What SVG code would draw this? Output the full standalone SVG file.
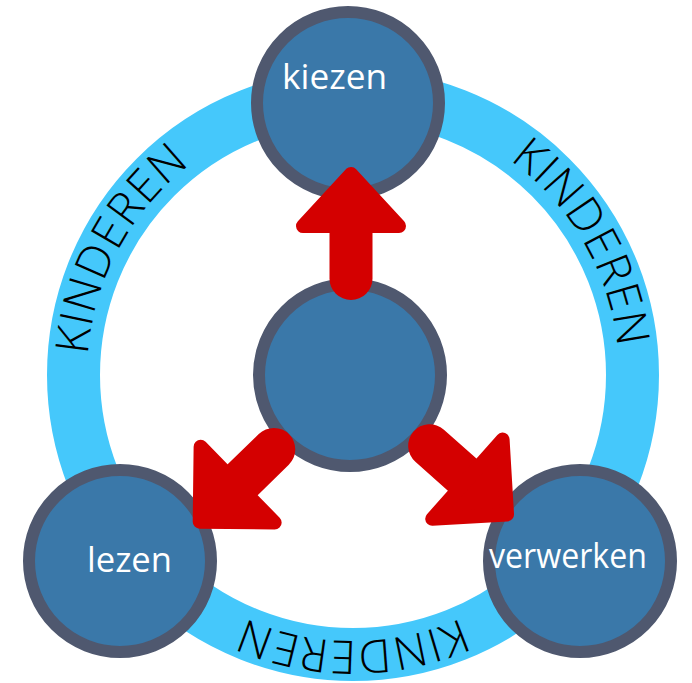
<svg xmlns="http://www.w3.org/2000/svg" xmlns:xlink="http://www.w3.org/1999/xlink" width="692" height="683" viewBox="0 0 692 683">
<style>
.node{fill:#3a78a9;stroke:#4f586f;stroke-width:12}
.lbl{fill:#ffffff;font-family:"Open Sans","Liberation Sans",sans-serif;font-size:35px}
.ring{fill:none;stroke:#45c8fb;stroke-width:53}
.kind{fill:#000000;font-family:"Open Sans","Liberation Sans",sans-serif;font-weight:350;font-size:46px;letter-spacing:1px}
.shaft{stroke:#d40000;stroke-width:43;stroke-linecap:round;fill:none}
.head{fill:#d40000;stroke:#d40000;stroke-width:14;stroke-linejoin:round}
</style>
<defs>
<path id="ringpath" d="M 619 375 A 266 266 0 1 1 87 375 A 266 266 0 1 1 619 375"/>
<g id="arrow-up">
<line class="shaft" x1="0" y1="-145" x2="0" y2="-96.5"/>
<polygon class="head" points="0,-201 -48,-149 48,-149"/>
</g>
<g id="arrow-diag">
<line class="shaft" x1="0" y1="-150" x2="0" y2="-106.5"/>
<polygon class="head" points="0,-210 -53,-157 53,-157"/>
</g>
</defs>
<g id="ring">
<circle class="ring" cx="353" cy="375" r="279.5"/>
<text class="kind" text-anchor="middle"><textPath xlink:href="#ringpath" startOffset="418">KINDEREN</textPath></text>
<text class="kind" text-anchor="middle"><textPath xlink:href="#ringpath" startOffset="967">KINDEREN</textPath></text>
<text class="kind" text-anchor="middle"><textPath xlink:href="#ringpath" startOffset="1532">KINDEREN</textPath></text>
</g>
<g id="node-kiezen">
<circle class="node" cx="348" cy="103" r="91"/>
<text class="lbl" x="282" y="89" textLength="105" lengthAdjust="spacingAndGlyphs">kiezen</text>
</g>
<g id="node-center">
<circle class="node" cx="350" cy="375" r="91"/>
</g>
<g id="node-lezen">
<circle class="node" cx="120" cy="561" r="91"/>
<text class="lbl" x="87" y="572" textLength="85" lengthAdjust="spacingAndGlyphs">lezen</text>
</g>
<g id="node-verwerken">
<circle class="node" cx="580" cy="561" r="91"/>
<text class="lbl" x="489" y="568" textLength="158" lengthAdjust="spacingAndGlyphs">verwerken</text>
</g>
<g id="connectors">
<use xlink:href="#arrow-up" transform="translate(351 375)"/>
<use xlink:href="#arrow-diag" transform="translate(350 375) rotate(-134.3)"/>
<use xlink:href="#arrow-diag" transform="translate(350 375) rotate(131.6)"/>
</g>
</svg>
